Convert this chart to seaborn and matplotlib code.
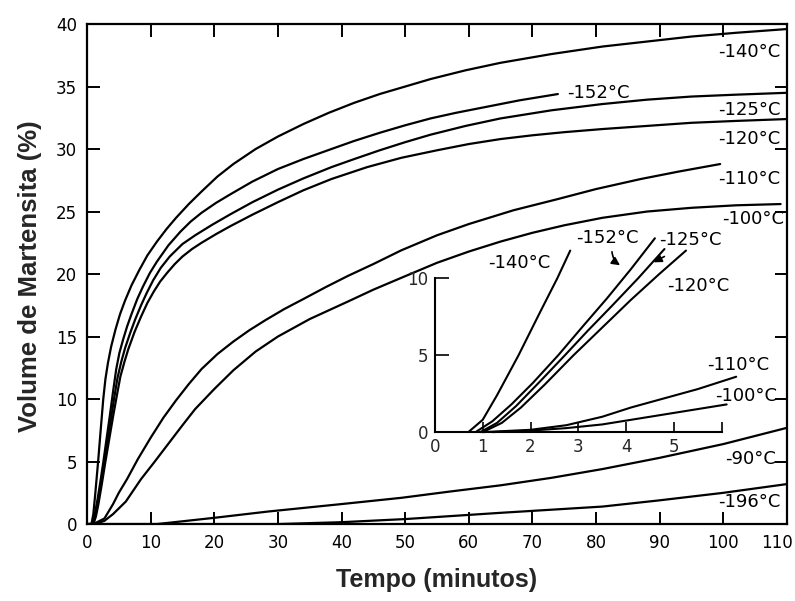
import matplotlib
matplotlib.use("Agg")
import matplotlib.pyplot as plt
import matplotlib.transforms as mtransforms
import pandas as pd
import seaborn as sns

# ---- main panel: martensite volume (%) vs. time (min) ----
t_140 = [0, 0.7, 1.0, 1.3, 1.75, 2.2, 2.56, 2.9, 3.3, 3.8, 4.5, 5.2, 6, 7, 8.2, 9.5, 11, 12.5, 14, 16, 18,
         20.5, 23, 26.5, 30, 34, 38, 42, 46, 50, 54, 59.5, 65, 73, 81, 88, 95, 102, 110]
v_140 = [0, 0, 0.8, 2.4, 5.0, 7.8, 10.0, 11.6, 12.9, 14.2, 15.6, 16.8, 17.9, 19.1, 20.3, 21.5, 22.6, 23.6, 24.5,
         25.6, 26.6, 27.8, 28.8, 30.0, 31.0, 32.0, 32.9, 33.7, 34.4, 35.0, 35.6, 36.3, 36.9, 37.6, 38.2, 38.6,
         39.0, 39.3, 39.6]

t_152 = [0, 0.85, 1.2, 1.6, 2.05, 2.58, 3.1, 3.6, 4.1, 4.6, 5.1, 5.7, 6.3, 7.0, 7.9, 8.8, 9.9, 11, 12.8, 14.7,
         16.3, 18, 20.3, 22.6, 26, 30, 34, 38.4, 42, 46, 50, 54, 58, 62, 65, 68, 71, 74]
v_152 = [0, 0, 0.7, 1.8, 3.2, 5.0, 6.9, 8.7, 10.6, 12.4, 13.7, 14.8, 15.8, 16.8, 18.0, 19.0, 20.1, 21.0, 22.3,
         23.4, 24.2, 24.9, 25.7, 26.4, 27.4, 28.4, 29.2, 30.0, 30.65, 31.3, 31.9, 32.45, 32.9, 33.3, 33.6, 33.9,
         34.15, 34.4]

t_125 = [0, 0.95, 1.3, 1.7, 2.2, 2.72, 3.2, 3.7, 4.25, 4.8, 5.4, 6.0, 6.8, 7.6, 8.5, 9.4, 10.4, 11.6, 13, 15,
         17, 19.7, 22.6, 26, 30, 34, 38.4, 42, 46, 50, 54, 59.5, 65, 73, 81, 88, 95, 102, 110]
v_125 = [0, 0, 0.6, 1.7, 3.3, 5.0, 6.6, 8.2, 10.0, 11.7, 13.0, 14.1, 15.3, 16.4, 17.5, 18.5, 19.5, 20.5, 21.4,
         22.4, 23.1, 23.95, 24.8, 25.75, 26.75, 27.65, 28.55, 29.2, 29.9, 30.55, 31.15, 31.85, 32.45, 33.1,
         33.6, 33.95, 34.2, 34.35, 34.5]

t_120 = [0, 1.0, 1.4, 1.8, 2.3, 2.9, 3.5, 4.1, 4.7, 5.25, 5.9, 6.5, 7.5, 8.5, 9.5, 10.5, 11.5, 12.6, 13.8, 15,
         16.5, 18, 20.3, 22.6, 26, 30, 34, 38.4, 44, 49.4, 55, 60, 65, 70, 75, 81, 88, 95, 102, 110]
v_120 = [0, 0, 0.6, 1.6, 3.1, 5.0, 6.8, 8.6, 10.3, 11.8, 13.0, 14.0, 15.4, 16.6, 17.7, 18.6, 19.4, 20.1, 20.8,
         21.4, 22.0, 22.5, 23.2, 23.85, 24.75, 25.75, 26.7, 27.6, 28.55, 29.3, 29.9, 30.4, 30.8, 31.1, 31.35,
         31.6, 31.85, 32.1, 32.25, 32.4]

t_110 = [0, 1.0, 2.75, 4.1, 5, 6.3, 8, 10, 12, 14, 16, 18, 20.5, 23, 25.5, 28, 31, 34, 37.5, 41, 45, 49.4, 55,
         60, 67, 74, 80, 87, 93, 99.5]
v_110 = [0, 0, 0.45, 1.6, 2.5, 3.6, 5.2, 6.9, 8.5, 9.9, 11.2, 12.4, 13.6, 14.6, 15.5, 16.3, 17.2, 18.0, 18.95,
         19.85, 20.8, 21.9, 23.1, 24.0, 25.1, 26.0, 26.8, 27.6, 28.2, 28.8]

t_100 = [0, 1.2, 2.75, 4.1, 6.1, 8.5, 10.5, 12.6, 15, 17, 20, 23, 26.5, 30, 35, 41, 45, 49.4, 55, 60, 65, 70,
         75, 81, 88, 95, 102, 109]
v_100 = [0, 0, 0.26, 0.8, 1.8, 3.6, 4.9, 6.3, 7.9, 9.2, 10.8, 12.3, 13.8, 15.0, 16.4, 17.8, 18.75, 19.7, 20.9,
         21.8, 22.6, 23.3, 23.9, 24.5, 25.0, 25.3, 25.5, 25.6]

t_90 = [0, 11, 20, 28.4, 40, 49.4, 57, 65, 73, 81, 90, 100, 110]
v_90 = [0, 0, 0.5, 1.0, 1.6, 2.1, 2.6, 3.1, 3.7, 4.4, 5.3, 6.4, 7.7]

t_196 = [0, 30, 40, 50, 65, 81, 90, 100, 110]
v_196 = [0, 0, 0.15, 0.4, 0.9, 1.4, 1.9, 2.5, 3.2]

# curve labels: text, x, y, horizontal alignment
main_labels = ["-140°C", "-152°C", "-125°C", "-120°C", "-110°C", "-100°C", "-90°C", "-196°C"]
main_label_x = [109, 75.5, 109, 109, 109, 109.6, 108.2, 109]
main_label_y = [37.8, 34.5, 33.1, 30.8, 27.6, 24.4, 5.2, 1.75]
main_label_ha = ["right", "left", "right", "right", "right", "right", "right", "right"]

# ---- inset: first minutes of transformation ----
it_140 = [0.7, 1.0, 1.3, 1.75, 2.2, 2.56, 2.83]
iv_140 = [0.0, 0.8, 2.4, 5.0, 7.8, 10.0, 11.8]
it_152 = [0.85, 1.2, 1.6, 2.05, 2.58, 3.1, 3.6, 4.1, 4.6]
iv_152 = [0.0, 0.7, 1.8, 3.2, 5.0, 6.9, 8.7, 10.6, 12.6]
it_125 = [0.95, 1.3, 1.7, 2.2, 2.72, 3.2, 3.7, 4.25, 4.8]
iv_125 = [0.0, 0.6, 1.7, 3.3, 5.0, 6.6, 8.2, 10.0, 11.9]
it_120 = [1.0, 1.4, 1.8, 2.3, 2.9, 3.5, 4.1, 4.7, 5.25]
iv_120 = [0.0, 0.6, 1.6, 3.1, 5.0, 6.8, 8.6, 10.3, 11.8]
it_110 = [1.0, 2.0, 2.75, 3.5, 4.1, 4.8, 5.5, 6.3]
iv_110 = [0.0, 0.15, 0.45, 1.0, 1.6, 2.2, 2.8, 3.6]
it_100 = [1.2, 2.0, 2.75, 3.5, 4.1, 4.8, 5.5, 6.1]
iv_100 = [0.0, 0.1, 0.26, 0.5, 0.8, 1.15, 1.5, 1.8]

inset_labels = ["-140°C", "-152°C", "-125°C", "-120°C", "-110°C", "-100°C"]
inset_label_x = [1.77, 3.6, 5.35, 5.5, 6.35, 6.5]
inset_label_y = [11.0, 12.6, 12.5, 9.5, 4.35, 2.35]

x_ticks = list(range(0, 111, 10))
y_ticks = list(range(0, 41, 5))
inset_x_ticks = [0, 1, 2, 3, 4, 5, 6]
inset_x_ticklabels = ["0", "1", "2", "3", "4", "5", ""]
inset_y_ticks = [0, 5, 10]


def long_frame(series):
    rows = []
    for name, (ts, vs) in series.items():
        for t, v in zip(ts, vs):
            rows.append({"curva": name, "tempo": t, "volume": v})
    return pd.DataFrame(rows)


main_df = long_frame({
    "-140": (t_140, v_140), "-152": (t_152, v_152), "-125": (t_125, v_125),
    "-120": (t_120, v_120), "-110": (t_110, v_110), "-100": (t_100, v_100),
    "-90": (t_90, v_90), "-196": (t_196, v_196),
})
inset_df = long_frame({
    "-140": (it_140, iv_140), "-152": (it_152, iv_152), "-125": (it_125, iv_125),
    "-120": (it_120, iv_120), "-110": (it_110, iv_110), "-100": (it_100, iv_100),
})

sns.set_theme(style="ticks")
plt.rcParams["font.family"] = ["DejaVu Sans"]

fig = plt.figure(figsize=(7.95, 6.01), dpi=100)
fig.patch.set_facecolor("white")
ax = fig.add_axes([0.1094, 0.128, 0.8805, 0.832])

sns.lineplot(data=main_df, x="tempo", y="volume", units="curva", estimator=None,
             sort=False, color="black", linewidth=1.6, ax=ax, legend=False)
for ln in ax.lines:
    ln.set_solid_joinstyle("round")
ax.set_xlim(0, 110)
ax.set_ylim(0, 40)
ax.set_xticks(x_ticks)
ax.set_yticks(y_ticks)
ax.set(xlabel="", ylabel="")
for s in ax.spines.values():
    s.set_visible(True)
    s.set_linewidth(1.6)
    s.set_color("black")
ax.tick_params(direction="in", top=True, right=True, length=9, width=1.4,
               labelsize=12, pad=7, colors="black")
# keep the last x tick label inside the figure
last = ax.get_xticklabels()[-1]
last.set_transform(last.get_transform() + mtransforms.ScaledTranslation(-10 / 100, 0, fig.dpi_scale_trans))

for txt, x, y, ha in zip(main_labels, main_label_x, main_label_y, main_label_ha):
    ax.text(x, y, txt, ha=ha, va="center", fontsize=13, color="black")

fig.text(437 / 795, 1 - 580 / 601, "Tempo (minutos)", ha="center", va="center",
         fontsize=18, fontweight="bold", family=["Liberation Sans", "DejaVu Sans"])
fig.text(30 / 795, 1 - 276 / 601, "Volume de Martensita (%)", ha="center", va="center",
         rotation=90, fontsize=18.5, fontweight="bold", family=["Liberation Sans", "DejaVu Sans"])

# inset axes
ax_in = fig.add_axes([0.547, 0.281, 0.361, 0.256])
ax_in.patch.set_alpha(0)
sns.lineplot(data=inset_df, x="tempo", y="volume", units="curva", estimator=None,
             sort=False, color="black", linewidth=1.5, ax=ax_in, legend=False)
for ln in ax_in.lines:
    ln.set_clip_on(False)
    ln.set_solid_joinstyle("round")
ax_in.set_xlim(0, 6)
ax_in.set_ylim(0, 10)
ax_in.set_xticks(inset_x_ticks)
ax_in.set_xticklabels(inset_x_ticklabels)
ax_in.set_yticks(inset_y_ticks)
ax_in.set(xlabel="", ylabel="")
ax_in.spines["top"].set_visible(False)
ax_in.spines["right"].set_visible(False)
for side in ("left", "bottom"):
    ax_in.spines[side].set_linewidth(1.5)
    ax_in.spines[side].set_color("black")
ax_in.tick_params(axis="x", direction="in", length=7, width=1.4, labelsize=12, pad=4)
ax_in.tick_params(axis="y", direction="in", length=10, width=1.4, labelsize=12, pad=5)

for txt, x, y in zip(inset_labels, inset_label_x, inset_label_y):
    ax_in.text(x, y, txt, ha="center", va="center", fontsize=13, color="black", clip_on=False)

ax_in.annotate("", xy=(3.92, 10.75), xytext=(3.7, 11.9),
               arrowprops=dict(arrowstyle="-|>", color="black", lw=1.2,
                               connectionstyle="arc3,rad=0.3"), annotation_clip=False)
ax_in.annotate("", xy=(4.52, 10.95), xytext=(4.85, 11.5),
               arrowprops=dict(arrowstyle="-|>", color="black", lw=1.2), annotation_clip=False)

fig.savefig("out.png", dpi=100, facecolor="white")
